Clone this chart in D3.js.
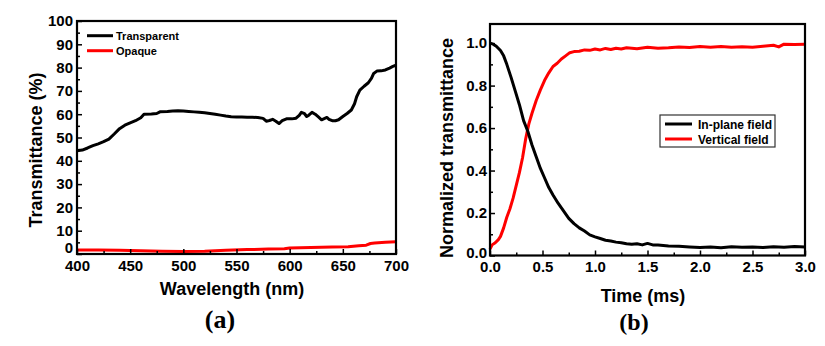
<!DOCTYPE html>
<html lang="en">
<head>
<meta charset="UTF-8">
<title>Transmittance spectra and response time</title>
<script src="https://d3js.org/d3.v7.min.js"></script>
<style>
    body { margin: 0; background: #fff; }
    svg { display: block; font-family: "Liberation Sans", Arial, sans-serif; font-weight: bold; }
    .line { fill: none; stroke-width: 3; stroke-linejoin: round; }
    .tick text { font-size: 15px; font-weight: bold; fill: #000; font-family: "Liberation Sans", Arial, sans-serif; }
    .tick line { stroke: #000; stroke-width: 1.5; }
    .title { font-size: 18px; fill: #000; }
    .panel { font-family: "Liberation Serif", "Times New Roman", serif; font-weight: bold; fill: #000; }
</style>
</head>
<body>
<svg width="825" height="346"></svg>
<script>
// (a) transmittance spectra
const transWl = [400, 405, 410, 415, 420, 425, 430, 435, 440, 445, 450, 455, 460, 463, 470, 475, 478, 485, 490, 495,
    500, 505, 510, 515, 520, 525, 530, 535, 540, 545, 550, 555, 560, 565, 570, 575, 578, 581, 584, 587,
    590, 593, 597, 602, 606, 609, 611, 614, 616, 618, 621, 624, 627, 630, 633, 635, 637, 640, 643, 646,
    650, 654, 658, 661, 663, 666, 670, 674, 677, 679, 682, 686, 690, 694, 697, 700];
const transparent = [44.3, 44.6, 45.5, 46.5, 47.3, 48.2, 49.3, 51.5, 53.8, 55.3, 56.3, 57.2, 58.5, 60.0, 60.1, 60.3, 61.0, 61.2, 61.4, 61.5,
    61.4, 61.2, 61.0, 60.8, 60.6, 60.3, 60.0, 59.6, 59.2, 58.9, 58.8, 58.8, 58.7, 58.7, 58.6, 58.2, 57.0, 57.3, 57.8, 57.0,
    56.0, 57.2, 58.0, 58.0, 58.3, 59.5, 60.8, 60.2, 59.0, 59.6, 60.8, 60.0, 58.8, 57.6, 58.2, 58.6, 57.8, 57.2, 57.2, 57.6,
    59.0, 60.3, 61.8, 64.5, 67.5, 70.3, 72.0, 73.5, 75.5, 77.5, 78.5, 78.6, 79.0, 79.8, 80.5, 81.0];
const opaqueWl = [400, 420, 440, 460, 480, 500, 520, 540, 560, 580, 595, 600, 620, 640, 655, 665, 672, 676, 680, 690, 700];
const opaque = [1.7, 1.7, 1.6, 1.4, 1.2, 1.1, 1.2, 1.6, 1.9, 2.1, 2.3, 2.6, 2.8, 3.0, 3.1, 3.5, 3.8, 4.5, 4.7, 5.0, 5.3];
const legendA = ["Transparent", "Opaque"];

// (b) normalized transmittance vs time
const inPlaneT = [0, 0.03, 0.06, 0.1, 0.13, 0.16, 0.2, 0.24, 0.28, 0.32, 0.36, 0.4, 0.44, 0.48, 0.52, 0.56, 0.6, 0.65, 0.7, 0.75,
    0.8, 0.85, 0.9, 0.95, 1.0, 1.05, 1.1, 1.15, 1.2, 1.25, 1.3, 1.35, 1.4, 1.45, 1.5, 1.55, 1.6, 1.7, 1.8, 1.9,
    2.0, 2.1, 2.2, 2.3, 2.4, 2.5, 2.6, 2.7, 2.8, 2.9, 3.0];
const inPlane = [1.0, 0.995, 0.985, 0.965, 0.94, 0.9, 0.84, 0.775, 0.71, 0.635, 0.585, 0.52, 0.465, 0.41, 0.365, 0.32, 0.285, 0.245, 0.21, 0.175,
    0.15, 0.13, 0.115, 0.097, 0.088, 0.08, 0.072, 0.068, 0.063, 0.06, 0.055, 0.053, 0.055, 0.05, 0.057, 0.05, 0.049, 0.045, 0.043, 0.04,
    0.038, 0.04, 0.037, 0.041, 0.039, 0.04, 0.038, 0.041, 0.039, 0.042, 0.04];
const verticalT = [0, 0.02, 0.05, 0.08, 0.1, 0.13, 0.16, 0.19, 0.22, 0.25, 0.28, 0.31, 0.34, 0.37, 0.4, 0.44, 0.48, 0.52, 0.56, 0.6,
    0.64, 0.68, 0.72, 0.76, 0.8, 0.85, 0.9, 0.95, 1.0, 1.05, 1.1, 1.15, 1.2, 1.25, 1.3, 1.4, 1.5, 1.6, 1.7, 1.8,
    1.9, 2.0, 2.1, 2.2, 2.3, 2.4, 2.5, 2.6, 2.7, 2.75, 2.8, 2.9, 3.0];
const vertical = [0.03, 0.05, 0.06, 0.075, 0.09, 0.13, 0.18, 0.22, 0.27, 0.33, 0.39, 0.46, 0.55, 0.62, 0.67, 0.73, 0.78, 0.825, 0.86, 0.89,
    0.905, 0.925, 0.94, 0.955, 0.96, 0.962, 0.968, 0.966, 0.972, 0.968, 0.975, 0.97, 0.976, 0.972, 0.978, 0.974, 0.98, 0.976, 0.978, 0.982,
    0.979, 0.984, 0.98, 0.984, 0.98, 0.983, 0.981, 0.985, 0.99, 0.982, 0.995, 0.994, 0.995];
const legendB = ["In-plane field", "Vertical field"];
const colors = ["#000000", "#ff0000"];

const svg = d3.select("svg");

function drawAxes(g, x, y, xMajor, xMinor, yMajor, yMinor, xFmt, yFmt, yPad) {
    const bottom = y.range()[0];
    const left = x.range()[0];
    g.append("g").attr("transform", `translate(0,${bottom})`)
        .call(d3.axisBottom(x).tickValues(xMinor).tickSize(-3).tickFormat(""));
    g.append("g").attr("transform", `translate(0,${bottom})`)
        .call(d3.axisBottom(x).tickValues(xMajor).tickSize(-5).tickPadding(6).tickFormat(xFmt));
    g.append("g").attr("transform", `translate(${left},0)`)
        .call(d3.axisLeft(y).tickValues(yMinor).tickSize(-3).tickFormat(""));
    g.append("g").attr("transform", `translate(${left},0)`)
        .call(d3.axisLeft(y).tickValues(yMajor).tickSize(-5).tickPadding(yPad).tickFormat(yFmt));
    g.selectAll(".domain").remove();
    g.append("rect")
        .attr("x", x.range()[0]).attr("y", y.range()[1])
        .attr("width", x.range()[1] - x.range()[0])
        .attr("height", bottom - y.range()[1])
        .attr("fill", "none").attr("stroke", "#000").attr("stroke-width", 2.2);
}

// ---- panel (a)
const xa = d3.scaleLinear().domain([400, 700]).range([77, 396]);
const ya = d3.scaleLinear().domain([0, 100]).range([254, 21]);
const ga = svg.append("g");

const lineA = d3.line().x(d => xa(d[0])).y(d => ya(d[1]));
ga.append("path").datum(d3.zip(opaqueWl, opaque))
    .attr("class", "line").attr("stroke", colors[1]).attr("d", lineA);
ga.append("path").datum(d3.zip(transWl, transparent))
    .attr("class", "line").attr("stroke", colors[0]).attr("d", lineA);

drawAxes(ga, xa, ya,
    d3.range(400, 701, 50), d3.range(425, 700, 50),
    d3.range(0, 101, 10), d3.range(5, 100, 10),
    d3.format("d"), d3.format("d"), 4);
// lift the "0" label so it clears the x labels
ga.selectAll(".tick text").filter(function(d) { return d === 0 && this.getAttribute("x") < 0; })
    .attr("dy", "-0.1em");

const legA = ga.selectAll("g.leg").data(legendA).enter().append("g")
    .attr("transform", (d, i) => `translate(87,${35.7 + i * 15})`);
legA.append("line").attr("x1", 0).attr("x2", 26)
    .attr("stroke", (d, i) => colors[i]).attr("stroke-width", 3);
legA.append("text").attr("x", 29).attr("y", 4)
    .style("font-size", "11px").text(d => d);

ga.append("text").attr("class", "title")
    .attr("transform", "translate(42,150) rotate(-90)")
    .attr("text-anchor", "middle").text("Transmittance (%)");
ga.append("text").attr("class", "title")
    .attr("x", 232).attr("y", 295).attr("text-anchor", "middle").text("Wavelength (nm)");
ga.append("text").attr("class", "panel")
    .attr("x", 220).attr("y", 328).attr("text-anchor", "middle")
    .style("font-size", "26px").text("(a)");

// ---- panel (b)
const xb = d3.scaleLinear().domain([0, 3]).range([490, 805]);
const yb = d3.scaleLinear().domain([0, 1.09]).range([255.5, 24]);
const gb = svg.append("g");

const lineB = d3.line().x(d => xb(d[0])).y(d => yb(d[1]));
gb.append("path").datum(d3.zip(verticalT, vertical))
    .attr("class", "line").attr("stroke", colors[1]).attr("stroke-width", 2.6).attr("d", lineB);
gb.append("path").datum(d3.zip(inPlaneT, inPlane))
    .attr("class", "line").attr("stroke", colors[0]).attr("stroke-width", 2.6).attr("d", lineB);

drawAxes(gb, xb, yb,
    d3.range(0, 3.01, 0.5), d3.range(0.25, 3, 0.5),
    d3.range(0, 1.01, 0.2), d3.range(0.1, 1.05, 0.2),
    d3.format(".1f"), d3.format(".1f"), 3);
gb.selectAll(".tick text").filter(function(d) { return d === 0 && this.getAttribute("x") < 0; })
    .attr("dy", "0.1em");

gb.append("rect").attr("x", 660).attr("y", 115).attr("width", 115).attr("height", 32)
    .attr("fill", "#fff").attr("stroke", "#333").attr("stroke-width", 1.2);
const legB = gb.selectAll("g.leg").data(legendB).enter().append("g")
    .attr("transform", (d, i) => `translate(665,${124 + i * 15})`);
legB.append("line").attr("x1", 0).attr("x2", 27)
    .attr("stroke", (d, i) => colors[i]).attr("stroke-width", 3);
legB.append("text").attr("x", 33).attr("y", 4.5)
    .style("font-size", "12px").text(d => d);

gb.append("text").attr("class", "title")
    .attr("transform", "translate(453,148) rotate(-90)")
    .attr("text-anchor", "middle").text("Normalized transmittance");
gb.append("text").attr("class", "title")
    .attr("x", 643).attr("y", 302).attr("text-anchor", "middle").text("Time (ms)");
gb.append("text").attr("class", "panel")
    .attr("x", 634).attr("y", 330).attr("text-anchor", "middle")
    .style("font-size", "24px").text("(b)");
</script>
</body>
</html>
